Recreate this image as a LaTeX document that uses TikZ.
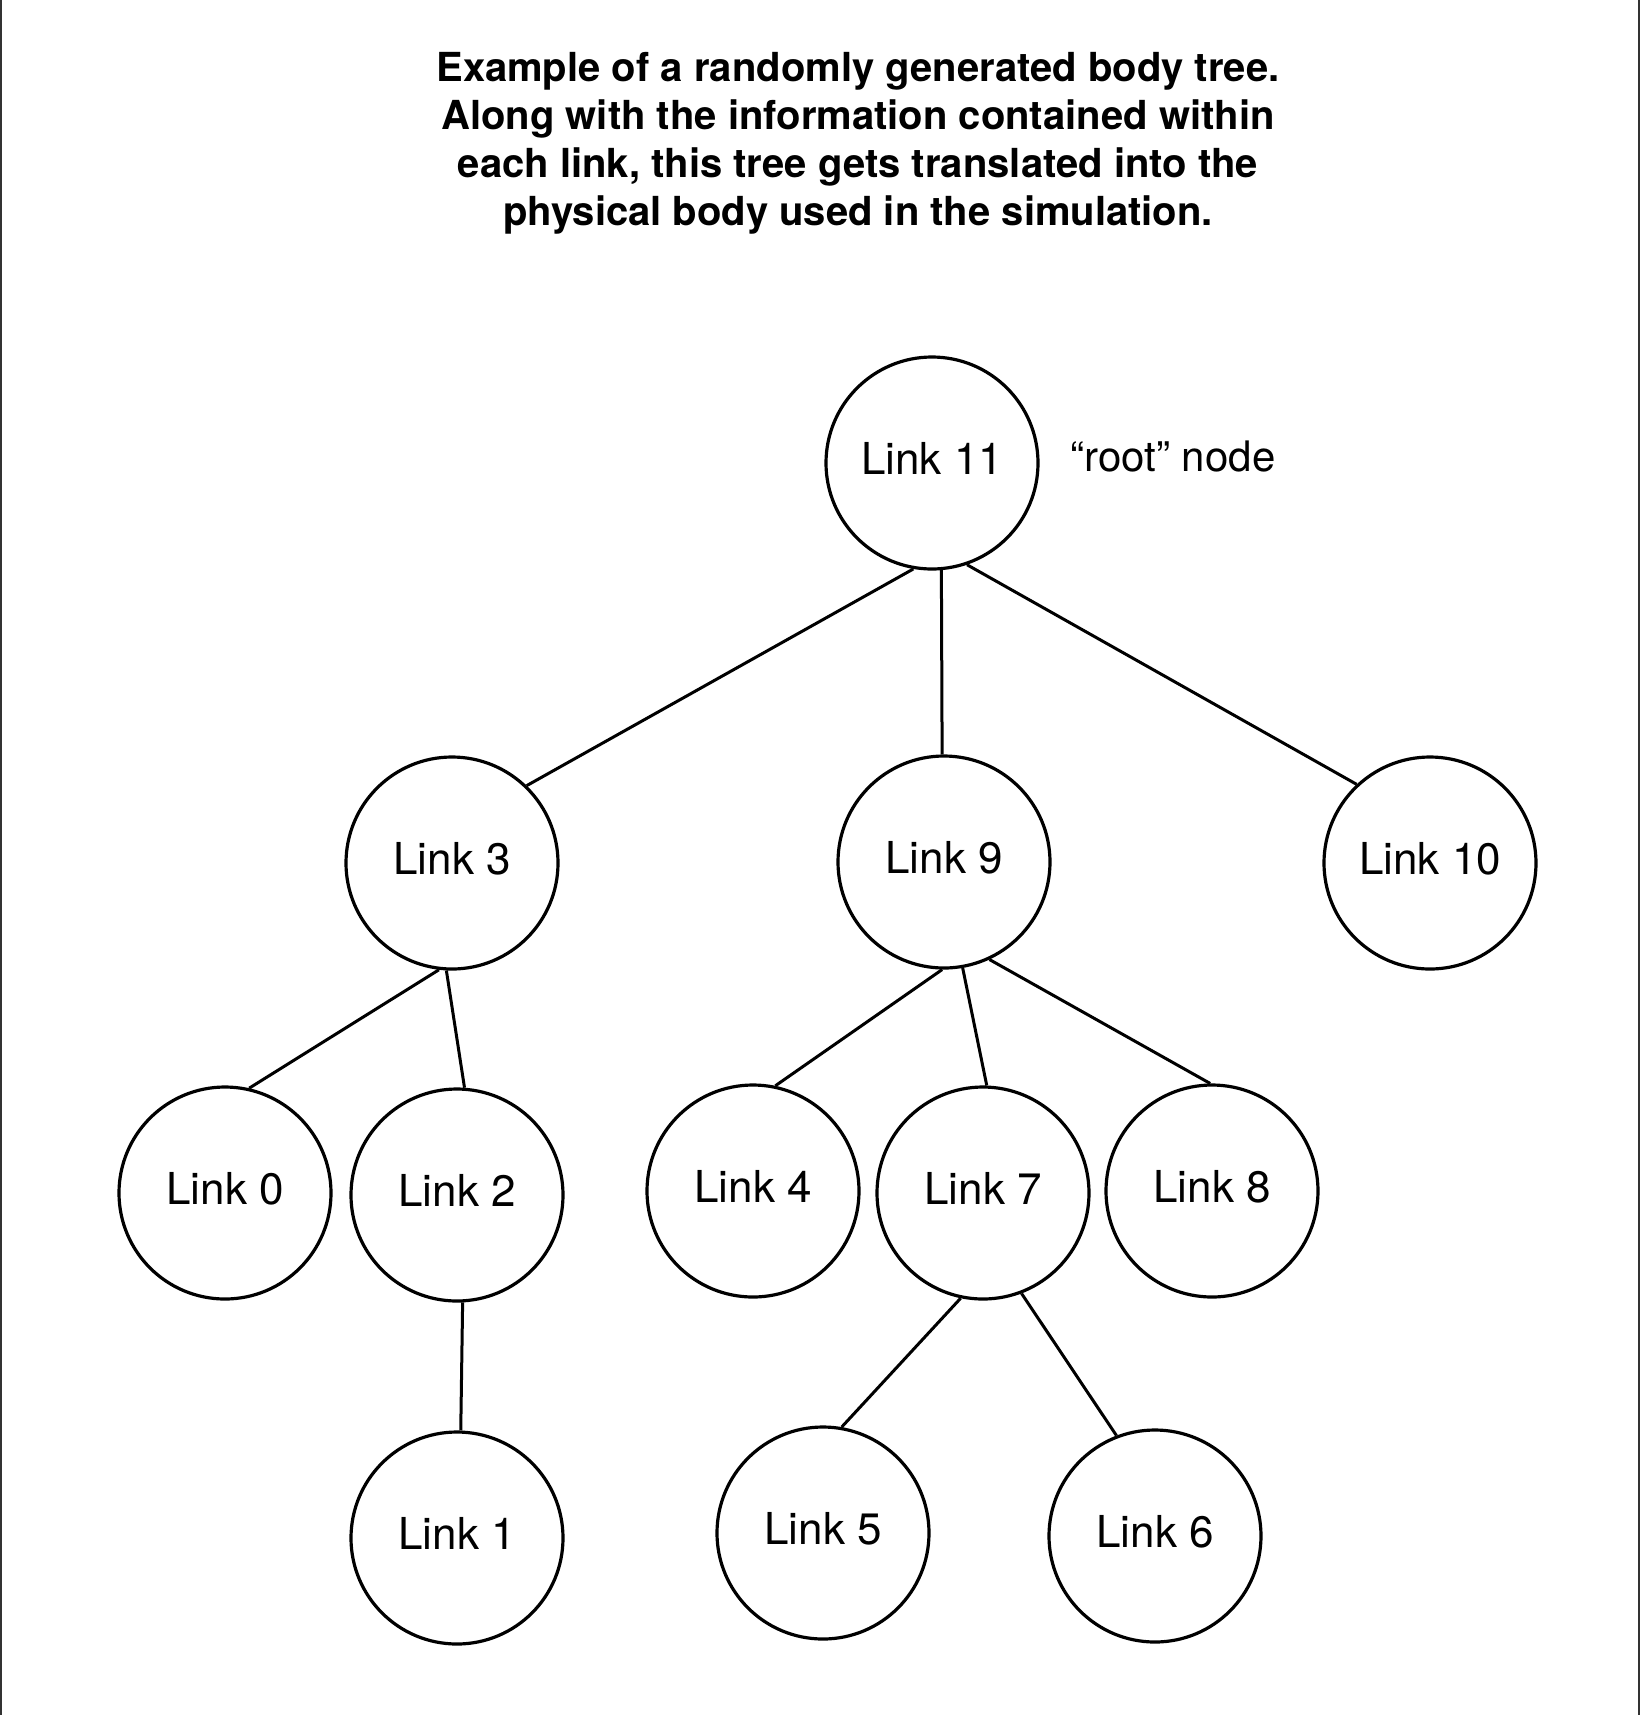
\documentclass[tikz,border=0pt]{standalone}
\usepackage{fontspec}
\setmainfont{TeX Gyre Heros}
\usetikzlibrary{positioning}
\begin{document}
\begin{tikzpicture}[x=0.5pt,y=-0.5pt,
    link/.style={draw,circle,line width=1.6pt,minimum size=106pt,inner sep=0pt,text depth=5pt,font=\fontsize{22}{26}\selectfont},
    edge/.style={line width=1.5pt}]
    \useasboundingbox (0,0) rectangle (1640,1715);
    \draw [line width=0.75pt,black!80] (1,0) -- (1,1715) (1639,0) -- (1639,1715);
    \node(title) at (858,143) [align=center,font=\bfseries\fontsize{20}{24}\selectfont]
    {Example of a randomly generated body tree.\\
     Along with the information contained within\\
     each link, this tree gets translated into the\\
     physical body used in the simulation.};
    \node[link](11) at (932,463) {Link 11};
    \node(root) at (1173,456) [font=\fontsize{21}{25}\selectfont] {“root” node};
    \node[link](3) at (452,863) {Link 3};
    \node[link](9) at (944,862) {Link 9};
    \node[link](10) at (1430,863) {Link 10};
    \node[link](0) at (225,1193) {Link 0};
    \node[link](2) at (457,1195) {Link 2};
    \node[link](4) at (753,1191) {Link 4};
    \node[link](7) at (983,1193) {Link 7};
    \node[link](8) at (1212,1191) {Link 8};
    \node[link](1) at (457,1538) {Link 1};
    \node[link](5) at (823,1533) {Link 5};
    \node[link](6) at (1155,1536) {Link 6};
    \draw [edge] (11.260) -- (3.46) ;
    \draw [edge] (11.275) -- (9.91) ;
    \draw [edge] (11.289) -- (10.133) ;
    \draw [edge] (3.263) -- (0.77) ;
    \draw [edge] (3.267) -- (2.86) ;
    \draw [edge] (9.269) -- (4.78) ;
    \draw [edge] (9.280) -- (7.88) ;
    \draw [edge] (9.295) -- (8.91) ;
    \draw [edge] (2.273) -- (1.88) ;
    \draw [edge] (7.258) -- (5.80) ;
    \draw [edge] (7.291) -- (6.111) ;
\end{tikzpicture}
\end{document}
